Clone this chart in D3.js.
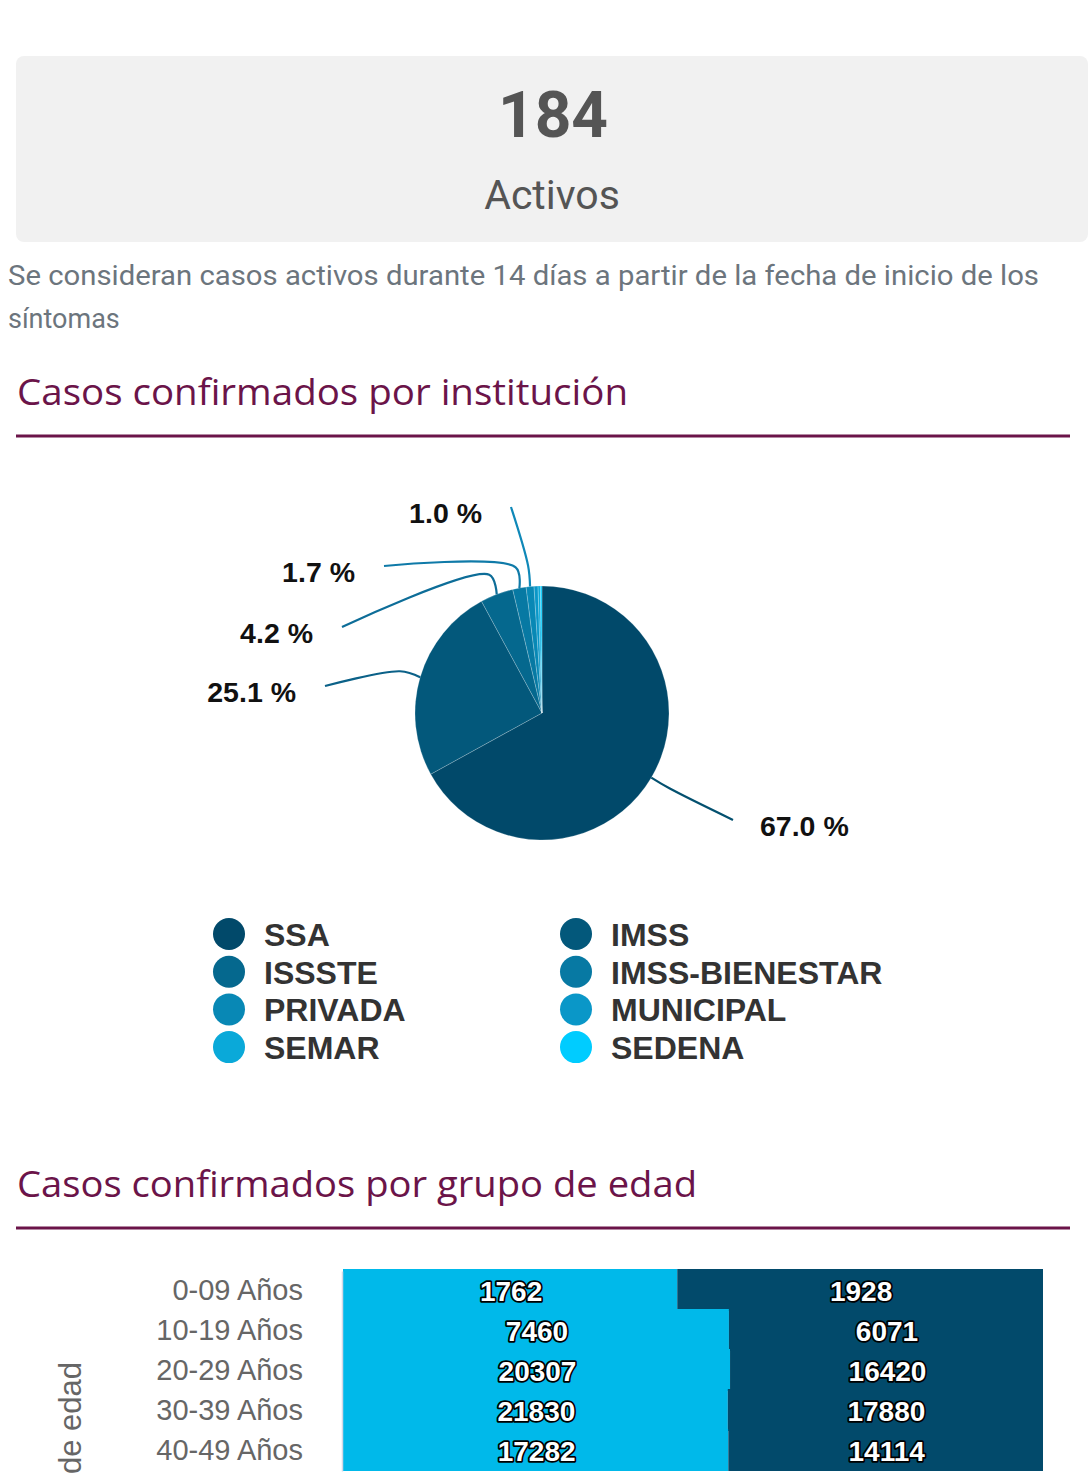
<!DOCTYPE html>
<html>
<head>
<meta charset="utf-8">
<script src="https://cdn.jsdelivr.net/npm/d3@7"></script>
<style>
	body { margin: 0; background: #fff; }
	svg { display: block; }
</style>
</head>
<body>
<div id="page"></div>
<script>
'use strict'

var activeCount = '184';
var activeLabel = 'Activos';
var noteLines = [
	'Se consideran casos activos durante 14 días a partir de la fecha de inicio de los',
	'síntomas'
];
var titles = ['Casos confirmados por institución', 'Casos confirmados por grupo de edad'];

var institutions = ['SSA', 'IMSS', 'ISSSTE', 'IMSS-BIENESTAR', 'PRIVADA', 'MUNICIPAL', 'SEMAR', 'SEDENA'];
var instShares = [67.0, 25.1, 4.2, 1.7, 1.0, 0.5, 0.3, 0.2];
var instColors = ['#01496a', '#03587b', '#05688e', '#0779a3', '#0888b5', '#0a97c8', '#0aa9d9', '#00ccff'];
var leaderColors = ['#03506f', '#0b6188', '#0d6d98', '#0f7aa8', '#0f88b8'];

var ageGroups = ['0-09 Años', '10-19 Años', '20-29 Años', '30-39 Años', '40-49 Años'];
var casesLight = [1762, 7460, 20307, 21830, 17282];
var casesDark = [1928, 6071, 16420, 17880, 14114];
var ageAxisTitle = 'Grupo de edad';

var app = {
	init: function() {
		var dimensions = { width: 1091, height: 1476 };

		var svg = d3.select('#page')
			.append('svg')
			.attr('width', dimensions.width)
			.attr('height', dimensions.height);

		app.header(svg);
		app.pie(svg);
		app.bars(svg);
	},

	header: function(svg) {
		svg.append('rect')
			.attr('x', 16).attr('y', 56)
			.attr('width', 1072).attr('height', 186)
			.attr('rx', 8)
			.attr('fill', '#f1f1f1');

		svg.append('text')
			.attr('x', 553).attr('y', 137)
			.attr('text-anchor', 'middle')
			.style('font', '700 64px Roboto')
			.attr('fill', '#555')
			.text(activeCount);

		svg.append('text')
			.attr('x', 552).attr('y', 209)
			.attr('text-anchor', 'middle')
			.style('font', '400 41px Roboto')
			.attr('fill', '#555')
			.text(activeLabel);

		svg.selectAll('.note')
			.data(noteLines)
			.enter().append('text')
			.attr('class', 'note')
			.attr('x', 8)
			.attr('y', function(d, i) { return 285 + i * 43; })
			.style('font', '400 27px Roboto')
			.attr('fill', '#6c757d')
			.attr('textLength', function(d, i) { return i === 0 ? 1031 : null; })
			.attr('lengthAdjust', 'spacingAndGlyphs')
			.text(function(d) { return d; });

		app.sectionTitle(svg, titles[0], 405, 436, 611);
		app.sectionTitle(svg, titles[1], 1197, 1228, 680);
	},

	sectionTitle: function(svg, label, y, ruleY, width) {
		svg.append('text')
			.attr('x', 17).attr('y', y)
			.style('font', '500 37px "Open Sans"')
			.attr('fill', '#6b1449')
			.attr('textLength', width)
			.attr('lengthAdjust', 'spacingAndGlyphs')
			.text(label);

		svg.append('line')
			.attr('x1', 16).attr('x2', 1070)
			.attr('y1', ruleY).attr('y2', ruleY)
			.attr('stroke', '#6b1449')
			.attr('stroke-width', 3);
	},

	pie: function(svg) {
		var cx = 542, cy = 713, r = 127;
		// where each leader line ends (layout only)
		var labelEnds = [[733, 820], [325, 686], [342, 627], [384, 566], [511, 507]];

		var g = svg.append('g').attr('transform', 'translate(' + cx + ',' + cy + ')');

		var arcs = d3.pie().sort(null).value(function(d) { return d; })(instShares);
		var arc = d3.arc().innerRadius(0).outerRadius(r);

		g.selectAll('path.slice')
			.data(arcs)
			.enter().append('path')
			.attr('class', 'slice')
			.attr('d', arc)
			.attr('fill', function(d, i) { return instColors[i]; })
			.attr('stroke', 'rgba(255,255,255,0.35)')
			.attr('stroke-width', 0.6);

		var line = d3.line().curve(d3.curveCatmullRom.alpha(0.5));

		var polar = function(a, rad) {
			return [rad * Math.sin(a), -rad * Math.cos(a)];
		};

		arcs.forEach(function(d, i) {
			if (i >= labelEnds.length) { return; }
			var mid = (d.startAngle + d.endAngle) / 2;
			var end = [labelEnds[i][0] - cx, labelEnds[i][1] - cy];
			var pts = [polar(mid, r), polar(mid, r + 21), end];

			g.append('path')
				.attr('d', line(pts))
				.attr('fill', 'none')
				.attr('stroke', leaderColors[i])
				.attr('stroke-width', 2.2);

			var right = end[0] > 0;
			g.append('text')
				.attr('x', right ? end[0] + 27 : end[0] - 29)
				.attr('y', end[1] + 16)
				.attr('text-anchor', right ? 'start' : 'end')
				.style('font', '700 28.5px "Liberation Sans", Arial, sans-serif')
				.attr('fill', '#111')
				.text(d.data.toFixed(1) + ' %');
		});

		// legend, two columns, row major
		var legend = svg.append('g');
		var items = legend.selectAll('g')
			.data(institutions)
			.enter().append('g')
			.attr('transform', function(d, i) {
				return 'translate(' + (229 + (i % 2) * 347) + ',' + (934 + Math.floor(i / 2) * 37.7) + ')';
			});

		items.append('circle')
			.attr('r', 16)
			.attr('fill', function(d, i) { return instColors[i]; });

		items.append('text')
			.attr('x', 35)
			.attr('y', 12)
			.style('font', '700 32px "Liberation Sans", Arial, sans-serif')
			.attr('fill', '#333')
			.text(function(d) { return d; });
	},

	bars: function(svg) {
		var totals = casesLight.map(function(v, i) { return v + casesDark[i]; });

		var x = d3.scaleLinear().domain([0, 1]).range([343, 1043]);
		var y = d3.scaleBand().domain(ageGroups).range([1271, 1471]).padding(0);

		var rows = svg.selectAll('g.row')
			.data(ageGroups)
			.enter().append('g')
			.attr('class', 'row');

		rows.append('rect')
			.attr('x', x(0))
			.attr('y', function(d) { return y(d) - 2; })
			.attr('width', function(d, i) { return x(casesLight[i] / totals[i]) - x(0); })
			.attr('height', y.bandwidth() + 2)
			.attr('fill', '#00b9ea');

		rows.append('rect')
			.attr('x', function(d, i) { return x(casesLight[i] / totals[i]); })
			.attr('y', function(d) { return y(d) - 2; })
			.attr('width', function(d, i) { return x(1) - x(casesLight[i] / totals[i]); })
			.attr('height', y.bandwidth() + 2)
			.attr('fill', '#024a6b');

		var valueText = function(sel, xf, vals) {
			sel.append('text')
				.attr('x', xf)
				.attr('y', function(d) { return y(d) + y.bandwidth() / 2 + 10; })
				.attr('text-anchor', 'middle')
				.style('font', '700 28px "Liberation Sans", Arial, sans-serif')
				.attr('fill', '#fff')
				.attr('stroke', '#000')
				.attr('stroke-width', 3.5)
				.attr('stroke-linejoin', 'round')
				.attr('paint-order', 'stroke')
				.text(function(d, i) { return vals[i]; });
		};

		valueText(rows, function(d, i) { return (x(0) + x(casesLight[i] / totals[i])) / 2 + 1; }, casesLight);
		valueText(rows, function(d, i) { return (x(casesLight[i] / totals[i]) + x(1)) / 2 + 1; }, casesDark);

		var axis = svg.append('g')
			.attr('transform', 'translate(' + (x(0) - 1) + ',0)')
			.call(d3.axisLeft(y).tickSize(0).tickPadding(39));

		axis.select('.domain').attr('stroke', '#d3d8e6').attr('stroke-width', 1.5);
		axis.selectAll('text')
			.style('font', '400 29px "Liberation Sans", Arial, sans-serif')
			.attr('fill', '#666');

		svg.append('text')
			.attr('transform', 'translate(81,1362) rotate(-90)')
			.attr('text-anchor', 'end')
			.style('font', '400 31px "Liberation Sans", Arial, sans-serif')
			.attr('fill', '#666')
			.text(ageAxisTitle);
	}
};

app.init();
</script>
</body>
</html>
